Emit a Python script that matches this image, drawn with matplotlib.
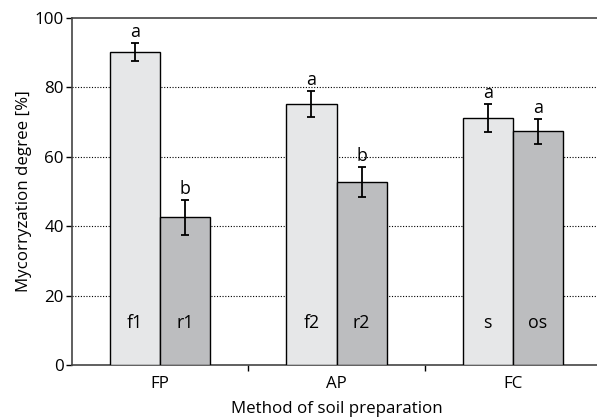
import matplotlib
matplotlib.use("Agg")
import matplotlib.pyplot as plt
import numpy as np

groups = ["FP", "AP", "FC"]
light_labels = ["f1", "f2", "s"]
dark_labels = ["r1", "r2", "os"]
light_vals = [90.2, 75.2, 71.2]
light_err = [2.5, 3.7, 4.1]
dark_vals = [42.6, 52.7, 67.4]
dark_err = [5.0, 4.3, 3.6]
light_sig = ["a", "a", "a"]
dark_sig = ["b", "b", "a"]

plt.rcParams['font.family'] = ['Open Sans', 'DejaVu Sans']

fig = plt.figure(figsize=(5.97, 4.2), dpi=100)
x0 = 72 / 597
x1 = 601 / 597
ax = fig.add_axes([x0, 55 / 420, x1 - x0, (365 - 18) / 420])

x = np.arange(len(groups))
w = 50 / 176
light_c = "#e6e7e8"
dark_c = "#bcbdbf"

ax.bar(x - w / 2, light_vals, width=w, color=light_c, edgecolor="black", linewidth=1.0, zorder=3)
ax.bar(x + w / 2, dark_vals, width=w, color=dark_c, edgecolor="black", linewidth=1.0, zorder=3)
ax.errorbar(x - w / 2, light_vals, yerr=light_err, fmt="none", ecolor="black", elinewidth=1.3, capsize=3, capthick=1.3, zorder=4)
ax.errorbar(x + w / 2, dark_vals, yerr=dark_err, fmt="none", ecolor="black", elinewidth=1.3, capsize=3, capthick=1.3, zorder=4)

fs = 12.2
for i in range(len(groups)):
    ax.text(x[i] - w / 2, light_vals[i] + light_err[i] + 0.6, light_sig[i], ha="center", va="bottom", fontsize=fs + 0.6, zorder=5)
    ax.text(x[i] + w / 2, dark_vals[i] + dark_err[i] + 0.6, dark_sig[i], ha="center", va="bottom", fontsize=fs + 0.6, zorder=5)
    ax.text(x[i] - w / 2, 12, light_labels[i], ha="center", va="center", fontsize=fs + 0.6, zorder=5)
    ax.text(x[i] + w / 2, 12, dark_labels[i], ha="center", va="center", fontsize=fs + 0.6, zorder=5)

ax.set_xlim(-0.5, 2.5)
ax.set_ylim(0, 100)
ax.set_yticks([0, 20, 40, 60, 80, 100])
ax.set_xticks(x)
ax.set_xticklabels(groups, fontsize=fs)
ax.tick_params(axis="x", length=0, pad=8)
ax.set_xticks([0.5, 1.5], minor=True)
ax.tick_params(axis="x", which="minor", length=4, direction="out", width=1)
ax.tick_params(axis="y", length=4, direction="out", width=1, labelsize=fs, pad=2)

for yv in [20, 40, 60, 80]:
    ax.axhline(yv, color="black", linestyle=(0, (1, 1.5)), linewidth=0.8, zorder=1)

for s in ["top", "bottom", "left"]:
    ax.spines[s].set_color("#444444")
    ax.spines[s].set_linewidth(1.2)
ax.spines["right"].set_visible(False)

ax.set_ylabel("Mycorryzation degree [%]", fontsize=fs)
ax.yaxis.set_label_coords(-40 / 529, 0.5)
ax.set_xlabel("Method of soil preparation", fontsize=fs)
ax.xaxis.set_label_coords(0.5, -0.105)

fig.savefig("out.png", dpi=100)
